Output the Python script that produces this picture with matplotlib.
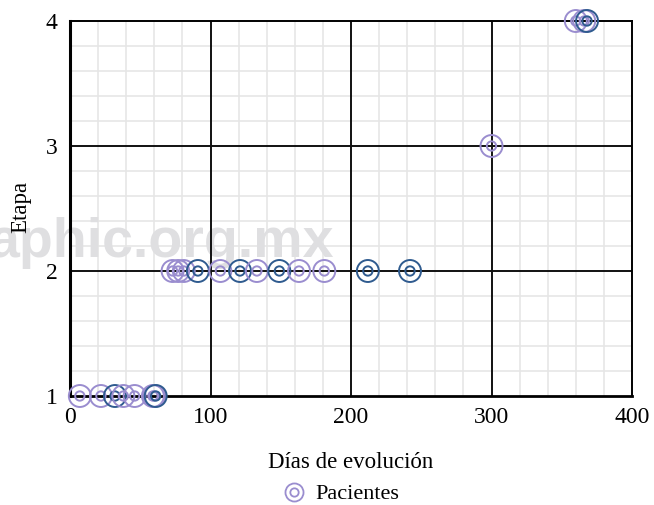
import numpy as np
import matplotlib
matplotlib.use('Agg')
import matplotlib.pyplot as plt
from matplotlib.lines import Line2D
from matplotlib.ticker import MultipleLocator

plt.rcParams['font.family'] = ['Liberation Serif', 'DejaVu Serif']

# patients: day of evolution and stage (repeated entries overlap -> darker)
dias  = [7, 22, 32, 32, 38, 46, 59, 60, 61, 61,
         73, 77, 81, 91, 91, 107, 121, 121, 133, 149, 149, 163, 181, 212, 212, 242, 242,
         300,
         360, 366, 368, 368]
etapa = [1, 1, 1, 1, 1, 1, 1, 1, 1, 1,
         2, 2, 2, 2, 2, 2, 2, 2, 2, 2, 2, 2, 2, 2, 2, 2, 2,
         3,
         4, 4, 4, 4]

light = '#9a8dcf'
dark = '#2f5b8f'

fig = plt.figure(figsize=(6.54, 5.05), dpi=100)
ax = fig.add_axes([70/654, 1 - 396/505, 562/654, 375/505])

ax.set_xlim(0, 400)
ax.set_ylim(1, 4)
ax.xaxis.set_major_locator(MultipleLocator(100))
ax.yaxis.set_major_locator(MultipleLocator(1))
ax.xaxis.set_minor_locator(MultipleLocator(20))
ax.yaxis.set_minor_locator(MultipleLocator(0.2))
ax.grid(which='minor', color='#e6e6e6', lw=1.2, zorder=1)
ax.tick_params(which='both', length=0)
ax.tick_params(axis='x', pad=8, labelsize=17)
ax.tick_params(axis='y', pad=9, labelsize=17)

# watermark
ax.text(-12/654, 1 - 257/505, 'aphic.org.mx', transform=fig.transFigure,
        family='Liberation Sans', fontweight='bold', fontsize=40, color='#dfdfe1',
        ha='left', va='baseline', zorder=2, clip_on=False)

# major grid lines on top of watermark
for xv in ax.get_xticks():
    if 0 < xv < 400:
        ax.axvline(xv, color='#111111', lw=1.4, zorder=3)
for yv in ax.get_yticks():
    if 1 < yv < 4:
        ax.axhline(yv, color='#111111', lw=1.4, zorder=3)

for s in ax.spines.values():
    s.set_color('black')
    s.set_zorder(3)
ax.spines['left'].set_linewidth(2.2)
ax.spines['bottom'].set_linewidth(2.0)
ax.spines['top'].set_linewidth(1.4)
ax.spines['right'].set_linewidth(1.4)

# points, coloured by how many patients share the same spot
pts = {}
for d, e in zip(dias, etapa):
    pts[(d, e)] = pts.get((d, e), 0) + 1
for (d, e), n in pts.items():
    c = dark if n > 1 else light
    ax.scatter([d], [e], s=250, facecolors='none', edgecolors=c, linewidths=1.4,
               zorder=5, clip_on=False)
    ax.scatter([d], [e], s=45, facecolors='none', edgecolors=c, linewidths=1.4,
               zorder=5, clip_on=False)

ax.set_xlabel('Días de evolución', fontsize=16.5, labelpad=17)
# y label drawn above the watermark
ax.text(21/654, 1 - 207/505, 'Etapa', transform=fig.transFigure, rotation=90,
        fontsize=16.5, ha='center', va='center', zorder=6)

h_out = Line2D([], [], ls='none', marker='o', ms=13, mfc='none', mec=light, mew=1.3)
h_in = Line2D([], [], ls='none', marker='o', ms=6, mfc='none', mec=light, mew=1.3)
fig.legend([(h_out, h_in)], ['Pacientes'], loc='center', bbox_to_anchor=(341/654, 1 - 494/505),
           frameon=False, fontsize=16, handlelength=1.0, handletextpad=0.5)

fig.savefig('out.png', dpi=100)
